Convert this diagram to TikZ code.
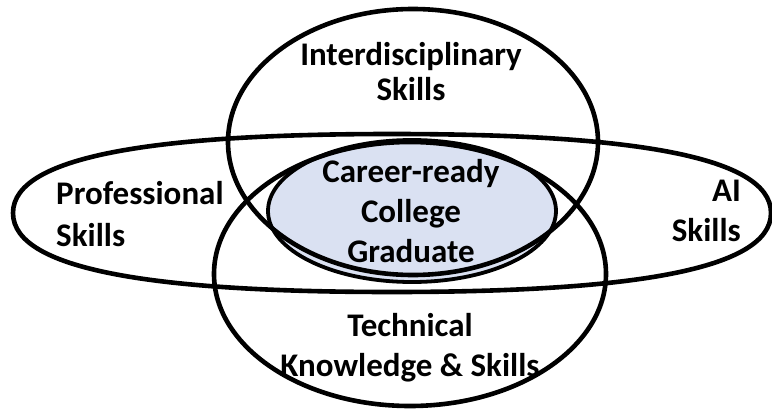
\documentclass[tikz,border=0pt]{standalone}
\usepackage{fontspec}
\setmainfont{Carlito}
\definecolor{azulclaro}{RGB}{218,225,242}

\begin{document}
\begin{tikzpicture}[x=1pt, y=-1pt,
    conjunto/.style={line width=4.6pt},
    rotulo/.style={font=\bfseries\fontsize{33}{#1}\selectfont, inner sep=0pt},
    rotulo/.default=40]

    % moldura fixa da figura (772 x 410)
    \useasboundingbox (0,0) rectangle (772,410);

    % 1. Elipse central (o graduado), preenchida em azul claro
    \draw[conjunto, line width=3.8pt, fill=azulclaro]
        (412,211) ellipse [x radius=144, y radius=71];

    % 2. Contorno largo que reúne Professional e AI
    % (mais achatado que uma elipse, por isso feito com curvas)
    \draw[conjunto] (13,213) .. controls (13,154) and (165,134) .. (392,134)
        .. controls (619,134) and (771,154) .. (771,213)
        .. controls (771,272) and (619,292) .. (392,292)
        .. controls (165,292) and (13,272) .. (13,213);

    % 3. Elipses verticais: Interdisciplinary em cima, Technical embaixo
    \draw[conjunto] (413,142) ellipse [x radius=185, y radius=133];
    \draw[conjunto] (410,274) ellipse [x radius=196, y radius=132];

    % 4. Rótulos dos conjuntos
    \node[rotulo=35, align=center] (interdisc) at (411,72) {Interdisciplinary\\Skills};
    \node[rotulo=42, align=left, anchor=west] (profiss) at (56,214) {Professional\\Skills};
    \node[rotulo, align=right, anchor=east] (ia) at (741,211) {AI\\Skills};
    \node[rotulo, align=center] (egresso) at (411,211) {Career-ready\\College\\Graduate};
    \node[rotulo, align=center] (tecnica) at (410,348) {Technical\\Knowledge \& Skills};

\end{tikzpicture}
\end{document}
